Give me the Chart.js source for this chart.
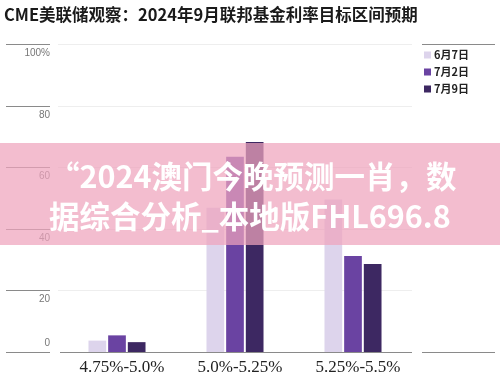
<!DOCTYPE html>
<html lang="zh-CN">
<head>
  <meta charset="UTF-8" />
  <title>CME美联储观察</title>
  <script src="https://cdn.jsdelivr.net/npm/chart.js"></script>
  <style>
    html, body {
      margin: 0;
      padding: 0;
      background: #fff;
    }

    .wrap {
      position: relative;
      width: 500px;
      height: 389px;
    }

    .banner {
      position: absolute;
      left: 0;
      top: 143px;
      width: 500px;
      height: 102px;
      box-sizing: border-box;
      padding: 12px 0 0 49px;
      background: rgba(238, 163, 189, 0.72);
      color: #fff;
      font-family: "Noto Sans CJK SC", sans-serif;
      font-weight: bold;
      font-size: 30.5px;
      line-height: 40px;
      white-space: nowrap;
    }
  </style>
</head>
<body>
  <div class="wrap">
    <canvas id="rateChart" width="500" height="389"></canvas>
    <div class="banner">“2024澳门今晚预测一肖，数<br>据综合分析_本地版FHL696.8</div>
  </div>

  <script>
    const title = "CME美联储观察：2024年9月联邦基金利率目标区间预期";
    const categories = ["4.75%-5.0%", "5.0%-5.25%", "5.25%-5.5%"];
    const seriesNames = ["6月7日", "7月2日", "7月9日"];
    const june7 = [3.7, 46.8, 49.5];
    const july2 = [5.4, 63.4, 31.2];
    const july9 = [3.2, 68.2, 28.6];
    const yTicks = [0, 20, 40, 60, 80, 100];
    const yTickLabels = ["0", "20", "40", "60", "80", "100%"];
    const colors = ["#ddd4ec", "#6a43a2", "#3d2862"];

    // grid, axis labels, legend and title are drawn by hand
    const decorations = {
      id: "decorations",
      beforeDatasetsDraw(chart) {
        const c = chart.ctx;
        const y = chart.scales.y;
        const area = chart.chartArea;
        c.save();
        yTicks.forEach((v, i) => {
          const py = Math.round(y.getPixelForValue(v)) + 0.5;
          if (v !== 0) {
            c.strokeStyle = "#eeeeee";
            c.lineWidth = 1;
            c.beginPath();
            c.moveTo(area.left, py);
            c.lineTo(area.right, py);
            c.stroke();
          }
          c.strokeStyle = "#8a8a8a";
          c.beginPath();
          c.moveTo(6, py);
          c.lineTo(50, py);
          c.stroke();
          c.fillStyle = "#777";
          c.font = '10px "Liberation Sans Narrow", "Liberation Sans", sans-serif';
          c.textAlign = "right";
          c.textBaseline = "middle";
          c.fillText(yTickLabels[i], 50, v === 0 ? py - 9 : py + 9);
        });
        c.restore();
      },
      afterDatasetsDraw(chart) {
        const c = chart.ctx;
        const x = chart.scales.x;
        const y = chart.scales.y;
        const area = chart.chartArea;
        const base = Math.round(y.getPixelForValue(0)) + 0.5;
        const top = Math.round(y.getPixelForValue(100)) + 0.5;
        c.save();
        c.strokeStyle = "#8a8a8a";
        c.lineWidth = 1;
        c.beginPath();
        c.moveTo(area.left + 2, base);
        c.lineTo(area.right, base);
        c.moveTo(422, base);
        c.lineTo(495, base);
        c.moveTo(422, top);
        c.lineTo(495, top);
        c.stroke();

        c.fillStyle = "#222";
        c.font = '17px "Liberation Serif", serif';
        c.textAlign = "center";
        c.textBaseline = "middle";
        categories.forEach((cat, i) => {
          c.fillText(cat, x.getPixelForValue(i) + 5, 368);
        });

        c.textAlign = "left";
        c.font = 'bold 11px "Noto Sans CJK SC", sans-serif';
        chart.data.datasets.forEach((ds, i) => {
          const cy = 55 + i * 17;
          c.fillStyle = ds.backgroundColor;
          c.fillRect(424, cy - 3.5, 7, 7);
          c.fillStyle = "#222";
          c.fillText(ds.label, 434, cy);
        });

        c.fillStyle = "#1a1a1a";
        c.font = 'bold 16.5px "Noto Sans CJK SC", sans-serif';
        c.fillText(title, 4, 15);
        c.restore();
      }
    };

    const ctx = document.getElementById("rateChart").getContext("2d");
    const chart = new Chart(ctx, {
      type: "bar",
      data: {
        labels: categories,
        datasets: [
          { label: seriesNames[0], data: june7, backgroundColor: colors[0] },
          { label: seriesNames[1], data: july2, backgroundColor: colors[1] },
          { label: seriesNames[2], data: july9, backgroundColor: colors[2] }
        ]
      },
      options: {
        responsive: false,
        animation: false,
        layout: {
          padding: { left: 58, right: 88, top: 44, bottom: 37 }
        },
        datasets: {
          bar: { categoryPercentage: 0.5, barPercentage: 0.9 }
        },
        scales: {
          x: { display: false },
          y: { display: false, min: 0, max: 100 }
        },
        plugins: {
          legend: { display: false },
          tooltip: { enabled: false }
        }
      },
      plugins: [decorations]
    });
  </script>
</body>
</html>
